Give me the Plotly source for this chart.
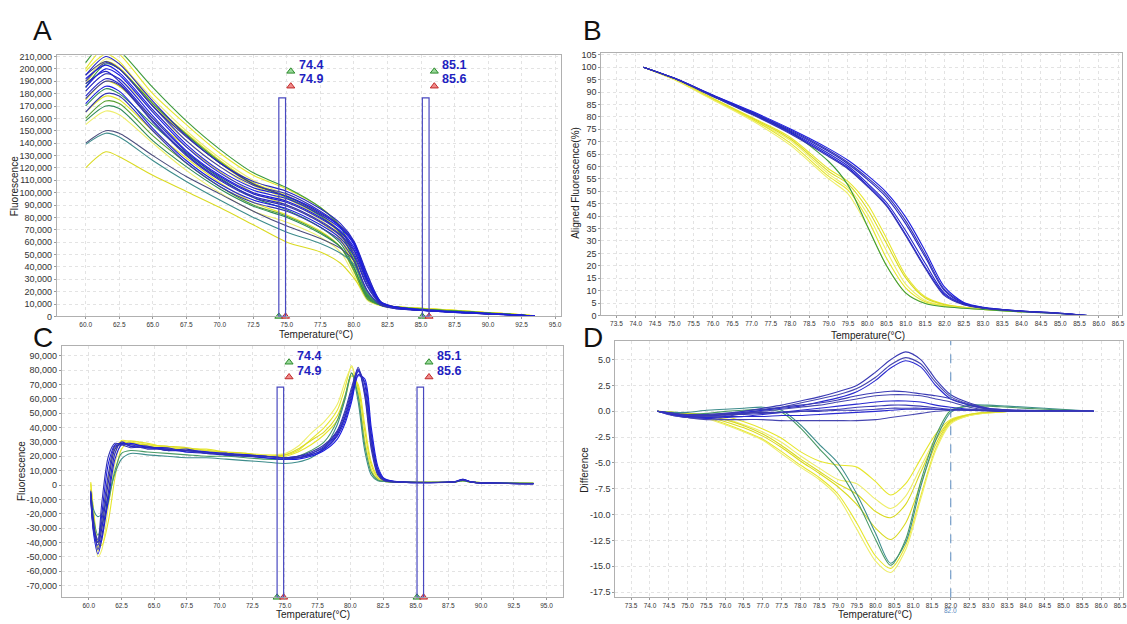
import plotly.graph_objects as go

# ======================= DATA =======================
# Panel A : raw melt curves (fluorescence, thousands)
TA = [60.0, 61.5, 62.5, 65.0, 67.5, 70.0, 72.5, 75.0, 77.5, 79.0, 80.0, 81.0, 82.0, 83.0, 85.0, 87.5, 90.0, 92.5, 93.5]
A_yellow = [
    [200, 218, 212, 180, 155, 132, 114, 103, 88, 73, 50, 19, 10, 8, 6.5, 5.0, 3.2, 1.5, 0.5],
    [190, 208, 204, 176, 150, 128, 110, 98, 83, 67, 45, 17, 9.5, 8, 6.5, 5.0, 3.0, 1.4, 0.5],
    [175, 190, 186, 160, 137, 117, 100, 90, 76, 62, 40, 15, 9, 7.5, 6, 4.5, 3.0, 1.3, 0.4],
    [165, 178, 175, 150, 128, 108, 92, 82, 69, 56, 36, 14, 9, 7.5, 6, 4.5, 2.8, 1.2, 0.4],
    [155, 166, 163, 140, 118, 100, 85, 76, 64, 52, 33, 13, 8.5, 7, 6, 4.3, 2.7, 1.1, 0.4],
    [120, 133, 129, 114, 101, 88, 74, 60, 52, 43, 31, 16, 10, 8, 6.5, 4.8, 3.0, 1.3, 0.4],
    [198, 212, 206, 172, 146, 124, 106, 95, 80, 66, 44, 16, 9.5, 8, 6.5, 5.0, 3.0, 1.4, 0.5],
    [182, 196, 192, 166, 142, 121, 104, 93, 78, 64, 42, 16, 9.5, 7.5, 6.2, 4.7, 3.0, 1.3, 0.4],
    [188, 206, 201, 172, 148, 126, 108, 97, 82, 68, 46, 17, 9.5, 7.8, 6.3, 4.8, 3.0, 1.3, 0.4],
]
A_green = [
    [205, 222, 215, 185, 158, 135, 116, 104, 88, 72, 48, 18, 10, 8, 6, 4.5, 2.8, 1.2, 0.4],
    [170, 184, 180, 155, 132, 112, 96, 86, 72, 59, 40, 15, 9, 7, 5.8, 4.2, 2.6, 1.1, 0.3],
    [160, 174, 172, 146, 124, 105, 90, 81, 68, 56, 37, 14, 9, 7, 5.6, 4.0, 2.5, 1.0, 0.3],
    [185, 204, 200, 172, 147, 125, 107, 96, 81, 67, 45, 17, 9.5, 7.5, 6, 4.4, 2.7, 1.1, 0.3],
    [158, 170, 168, 142, 121, 103, 89, 80, 67, 56, 39, 16, 9, 7, 5.5, 4.0, 2.5, 1.0, 0.3],
]
A_dark = [
    [140, 150, 148, 130, 113, 99, 85, 73, 63, 55, 45, 20, 10, 7.5, 5.5, 4.0, 2.5, 1.0, 0.3],
    [195, 206, 200, 170, 145, 124, 107, 97, 83, 73, 60, 30, 11, 7.5, 5.5, 4.0, 2.5, 1.0, 0.3],
    [139, 148, 145, 126, 109, 94, 80, 68, 59, 51, 42, 19, 10, 7.5, 5.5, 4.0, 2.5, 1.0, 0.3],
]
A_blue = [
    [185, 200, 195, 165, 137, 116, 102, 95, 82, 71, 58, 30, 11, 7, 5, 3.5, 2.2, 0.9, 0.3],
    [178, 192, 188, 158, 131, 111, 97, 90, 77, 66, 53, 27, 10, 7, 5, 3.4, 2.1, 0.8, 0.2],
    [190, 205, 200, 170, 142, 121, 106, 99, 85, 73, 60, 33, 12, 8, 5.5, 3.6, 2.3, 1.0, 0.3],
    [172, 186, 182, 152, 126, 107, 94, 87, 74, 63, 49, 24, 10, 6.5, 5, 3.3, 2.0, 0.8, 0.2],
    [195, 210, 204, 174, 146, 124, 109, 101, 87, 75, 61, 34, 12, 8, 5.5, 3.6, 2.3, 1.0, 0.3],
    [165, 180, 178, 150, 124, 105, 92, 85, 72, 61, 45, 21, 9, 6.5, 4.8, 3.2, 2.0, 0.8, 0.2],
    [182, 196, 192, 162, 134, 114, 100, 93, 80, 69, 56, 29, 11, 7, 5, 3.5, 2.2, 0.9, 0.3],
    [188, 198, 190, 160, 133, 113, 99, 92, 79, 68, 54, 28, 10.5, 7, 5, 3.4, 2.1, 0.9, 0.3],
    [176, 190, 187, 157, 130, 110, 96, 89, 76, 65, 51, 25, 10, 6.8, 5, 3.3, 2.1, 0.8, 0.2],
    [192, 203, 197, 167, 139, 118, 104, 97, 84, 72, 59, 31, 11.5, 7.5, 5.2, 3.5, 2.2, 0.9, 0.3],
]

# Panel B : aligned fluorescence (%)
TB = [74.2, 75.0, 76.0, 77.0, 78.0, 79.0, 79.5, 80.0, 80.5, 81.0, 81.5, 82.0, 82.5, 83.0, 84.0, 85.0, 85.7]
B_yellow = [
    [100, 95.2, 87.5, 79.8, 71.8, 59.0, 54.0, 45.0, 31.0, 16.0, 7.5, 4.5, 3.3, 2.6, 1.6],
    [100, 95.0, 87.0, 79.0, 70.5, 57.0, 51.5, 41.0, 26.0, 12.5, 6.0, 4.0, 3.1, 2.5, 1.5],
    [100, 95.2, 87.3, 79.5, 71.2, 58.0, 53.0, 43.0, 29.0, 15.0, 7.0, 4.3, 3.3, 2.6, 1.6],
    [100, 95.1, 87.1, 79.2, 69.5, 56.0, 50.5, 39.0, 23.0, 11.0, 5.5, 3.8, 3.0, 2.4, 1.5],
    [100, 94.9, 86.8, 78.6, 68.6, 55.0, 49.0, 36.0, 20.0, 9.0, 5.0, 3.6, 3.0, 2.4, 1.4],
]
B_green = [
    [100, 95.5, 88.3, 81.2, 74.0, 62.0, 52.5, 36.0, 20.0, 9.0, 4.8, 3.5, 2.9, 2.4, 1.4, 0.7, 0.0],
]
B_blue = [
    [100, 95.5, 88.3, 81.3, 73.6, 64.5, 59.5, 52.5, 44.5, 32.5, 19.5, 8.5, 4.4, 3.0, 1.7, 0.8, 0.0],
    [100, 95.5, 88.5, 81.6, 74.0, 65.2, 60.2, 53.3, 45.5, 34.0, 21.0, 9.0, 4.6, 3.0, 1.7, 0.8, 0.0],
    [100, 95.6, 88.7, 82.0, 74.8, 66.5, 61.6, 55.5, 48.5, 38.0, 24.5, 10.5, 5.0, 3.2, 1.8, 0.9, 0.0],
    [100, 95.6, 88.8, 82.3, 75.2, 67.2, 62.5, 56.5, 49.5, 39.5, 26.0, 11.5, 5.2, 3.3, 1.8, 0.9, 0.0],
    [100, 95.5, 88.6, 81.8, 74.4, 66.0, 61.0, 54.8, 47.5, 36.8, 23.5, 10.0, 4.8, 3.1, 1.8, 0.9, 0.0],
    [100, 95.4, 88.2, 81.0, 73.2, 64.0, 59.0, 52.0, 44.0, 32.0, 19.0, 8.0, 4.3, 2.9, 1.6, 0.8, 0.0],
]

# Panel C : derivative melt curves (thousands)
TC = [60.15, 60.4, 60.7, 61.0, 61.5, 62.0, 62.5, 63.2, 64.5, 66.0, 67.5, 69.0, 70.5, 72.0, 73.5, 75.0,
      76.0, 77.0, 78.0, 79.0, 79.6, 80.1, 80.6, 81.1, 81.6, 82.1, 82.6, 84.0, 88.0, 88.6, 89.3, 94.0]
C_yellow = [
    [2, -22, -46, -38, -5, 22, 31, 30, 27, 27, 25, 25, 23, 22, 21, 21, 24, 32, 40, 52, 68, 83, 65, 32, 11, 4, 2.5, 2, 2.2, 3, 2, 1.2],
    [0, -25, -50, -45, -15, 15, 29, 31, 28, 26, 26, 24, 22, 21, 21, 22, 27, 36, 44, 56, 72, 82, 60, 28, 9, 3.5, 2.5, 2, 2.2, 3, 2, 1.2],
    [-3, -28, -44, -30, 5, 26, 30, 29, 28, 27, 26, 24, 23, 22, 20, 21, 25, 31, 37, 48, 62, 78, 68, 38, 14, 5, 2.8, 2, 2.2, 3, 2, 1.2],
    [1, -20, -40, -42, -25, 5, 25, 30, 29, 26, 25, 24, 22, 21, 20, 20, 23, 28, 35, 45, 60, 76, 70, 42, 16, 6, 3, 2, 2.2, 3, 2, 1.2],
]
C_green = [
    [-5, -18, -22, -20, -8, 8, 18, 22, 21, 20, 19, 19, 18, 17, 16, 15, 16, 19, 26, 42, 60, 78, 58, 24, 7, 3, 2.5, 2, 2.2, 3, 2, 1.2],
    [-6, -25, -35, -28, -12, 10, 22, 24, 23, 22, 21, 20, 20, 19, 18, 18, 20, 24, 30, 45, 62, 78, 62, 28, 9, 3.5, 2.5, 2, 2.2, 3, 2, 1.2],
]
C_blue = [
    [-6, -32, -40, -20, 15, 28, 29, 27, 26, 25, 24, 23, 21, 21, 20, 19, 20, 22, 26, 36, 48, 64, 79, 66, 30, 9, 3.5, 2, 2.2, 3.5, 2, 1.0],
    [-8, -34, -42, -30, 2, 25, 29, 28, 27, 24, 25, 22, 22, 20, 19, 18, 19, 21, 25, 34, 45, 60, 77, 72, 36, 11, 4, 2, 2.3, 4, 2, 1.0],
    [-5, -30, -38, -12, 20, 29, 28, 26, 27, 24, 24, 23, 21, 20, 20, 19, 20, 23, 28, 38, 52, 68, 81, 62, 25, 7, 3, 2, 2.2, 3.5, 2, 1.0],
    [-10, -36, -48, -38, -10, 18, 28, 29, 26, 25, 23, 23, 22, 21, 19, 18, 18, 20, 24, 32, 43, 58, 76, 74, 40, 13, 4.5, 2, 2.4, 4, 2, 1.0],
    [-4, -28, -45, -35, -5, 22, 30, 27, 26, 26, 23, 22, 21, 21, 20, 19, 19, 21, 25, 35, 47, 62, 80, 70, 33, 10, 3.8, 2, 2.3, 3.8, 2, 1.0],
    [-7, -33, -40, -25, 8, 27, 28, 28, 25, 25, 24, 22, 22, 20, 20, 19, 19, 22, 27, 37, 50, 66, 82, 64, 28, 8, 3.2, 2, 2.2, 3.5, 2, 1.0],
]

# Panel D : difference plot
TD = [74.2, 74.6, 75.0, 75.5, 76.0, 76.5, 77.0, 77.5, 78.0, 78.5, 79.0, 79.5, 80.0, 80.4, 80.8, 81.2,
      81.6, 82.0, 82.5, 83.0, 83.5, 84.5, 85.8]
D_yellow = [
    [0, -0.1, -0.2, -0.3, -0.5, -1.0, -1.7, -2.6, -3.9, -4.8, -5.2, -5.4, -6.8, -8.1, -7.0, -4.6, -2.2, -0.8, -0.3, -0.1, 0],
    [0, -0.1, -0.2, -0.4, -0.7, -1.3, -2.0, -3.0, -4.3, -5.5, -6.6, -7.0, -8.5, -9.4, -8.2, -5.4, -2.6, -0.9, -0.3, -0.1, 0],
    [0, -0.1, -0.3, -0.5, -1.0, -1.6, -2.4, -3.5, -4.8, -6.0, -7.3, -9.0, -11.3, -12.4, -10.8, -7.0, -3.2, -1.0, -0.35, -0.1, 0],
    [0, -0.2, -0.3, -0.6, -1.2, -1.9, -2.7, -3.9, -5.2, -6.4, -8.0, -10.8, -14.0, -15.2, -13.0, -8.2, -3.6, -1.1, -0.4, -0.15, 0],
    [0, -0.2, -0.4, -0.7, -1.3, -2.0, -2.8, -4.1, -5.4, -6.6, -8.3, -11.4, -14.5, -15.6, -13.4, -8.5, -3.8, -1.2, -0.4, -0.15, 0],
    [0, -0.1, -0.2, -0.4, -0.8, -1.4, -2.2, -3.3, -4.6, -5.8, -7.0, -8.0, -9.7, -10.3, -9.0, -5.9, -2.8, -0.9, -0.3, -0.1, 0],
]
D_teal = [
    [0, -0.1, -0.1, 0.1, 0.2, 0.3, 0.4, 0.1, -1.3, -3.2, -5.0, -8.0, -11.8, -14.7, -12.7, -7.3, -2.8, -0.1, 0.6, 0.6, 0.5, 0.3, 0],
    [0, -0.2, -0.3, -0.2, 0.0, 0.1, 0.2, -0.1, -1.6, -3.6, -5.6, -8.6, -12.4, -14.9, -12.4, -6.8, -2.4, 0.1, 0.5, 0.5, 0.4, 0.2, 0],
]
D_blue = [
    [0, -0.3, -0.5, -0.5, -0.3, 0.0, 0.3, 0.6, 1.0, 1.4, 1.9, 2.5, 3.8, 5.0, 5.75, 5.0, 3.1, 1.6, 0.8, 0.3, 0.15, 0.05, 0],
    [0, -0.3, -0.6, -0.6, -0.5, -0.2, 0.1, 0.4, 0.8, 1.2, 1.6, 2.2, 3.3, 4.5, 5.2, 4.6, 2.8, 1.4, 0.7, 0.3, 0.15, 0.05, 0],
    [0, -0.2, -0.4, -0.4, -0.3, -0.1, 0.1, 0.3, 0.5, 0.9, 1.3, 1.9, 3.0, 4.2, 4.9, 4.3, 2.5, 1.2, 0.6, 0.25, 0.1, 0.05, 0],
    [0, -0.3, -0.5, -0.4, -0.2, 0.0, 0.2, 0.4, 0.6, 0.8, 1.1, 1.5, 1.8, 1.95, 1.9, 1.7, 1.5, 1.2, 0.6, 0.2, 0.1, 0.05, 0],
    [0, -0.2, -0.4, -0.5, -0.4, -0.2, 0.0, 0.2, 0.4, 0.6, 0.9, 1.2, 1.5, 1.6, 1.6, 1.5, 1.2, 0.9, 0.4, 0.15, 0.05, 0.0, 0],
    [0, -0.4, -0.6, -0.7, -0.6, -0.5, -0.3, -0.1, 0.1, 0.3, 0.5, 0.7, 0.9, 1.0, 1.0, 0.9, 0.6, 0.4, 0.2, 0.1, 0.05, 0.0, 0],
    [0, -0.2, -0.4, -0.4, -0.3, -0.3, -0.2, -0.1, 0.0, 0.1, 0.2, 0.4, 0.5, 0.6, 0.6, 0.5, 0.35, 0.2, 0.1, 0.05, 0.0, 0.0, 0],
    [0, -0.4, -0.6, -0.8, -0.8, -0.8, -0.8, -0.9, -0.9, -0.9, -0.9, -0.9, -0.8, -0.6, -0.4, -0.2, 0.0, 0.1, 0.2, 0.1, 0.05, 0.0, 0],
    [0, -0.3, -0.5, -0.6, -0.5, -0.5, -0.5, -0.4, -0.4, -0.3, -0.2, -0.1, 0.0, 0.1, 0.2, 0.2, 0.2, 0.15, 0.1, 0.05, 0.0, 0.0, 0],
    [0, -0.2, -0.3, -0.3, -0.2, -0.2, -0.1, -0.1, 0.0, 0.0, 0.1, 0.1, 0.2, 0.3, 0.3, 0.3, 0.2, 0.15, 0.1, 0.05, 0.0, 0.0, 0],
]

# Melt-region markers (lower/upper bound pairs) and the difference reference temperature
MARKERS = [(74.4, 74.9), (85.1, 85.6)]
D_REF = 82.0

# Tick values
A_XTICKS = [60.0 + 2.5 * i for i in range(15)]
A_YTICKS = [10 * i for i in range(22)]
B_XTICKS = [73.5 + 0.5 * i for i in range(27)]
B_YTICKS = [5 * i for i in range(22)]
C_YTICKS = [-70 + 10 * i for i in range(17)]
D_YTICKS = [-17.5 + 2.5 * i for i in range(10)]

# ======================= STYLE =======================
W, H = 1127, 624
FONT = "Liberation Sans Narrow, Arial Narrow, Liberation Sans, Arial, sans-serif"
FONT_T = "Liberation Sans, Arial, sans-serif"
YELLOWS = ['#e6e62c', '#eeee6a', '#dada22']
GREENS = ['#3c9a3c', '#2f8a58', '#58a030']
DARKS = ['#4c4c7c', '#3a3a8a', '#3d8b8b']
BLUES = ['#1c1ce0', '#2626c4', '#3434b0']
TEALS = ['#3d8c8c', '#4a9a66']
DBLUES = ['#3a3ab4', '#4646b0', '#2a2ad0']


def px(x):
    return x / W


def py(y):
    return 1 - y / H


fig = go.Figure()


def add_group(xs, groups, colors, xa, ya, width=1.1):
    for i, ys in enumerate(groups):
        fig.add_trace(go.Scatter(
            x=xs[:len(ys)], y=ys, mode='lines', xaxis=xa, yaxis=ya,
            line=dict(color=colors[i % len(colors)], width=width, shape='spline', smoothing=0.8),
            hoverinfo='skip', showlegend=False))


# Panel A
add_group(TA, A_yellow, YELLOWS, 'x', 'y')
add_group(TA, A_green, GREENS, 'x', 'y')
add_group(TA, A_dark, DARKS, 'x', 'y')
add_group(TA, A_blue, BLUES, 'x', 'y')
# Panel B
add_group(TB, B_yellow, YELLOWS, 'x2', 'y2')
add_group(TB, B_green, GREENS, 'x2', 'y2')
add_group(TB, B_blue, BLUES, 'x2', 'y2')
# Panel C
add_group(TC, C_yellow, YELLOWS, 'x3', 'y3')
add_group(TC, C_green, TEALS, 'x3', 'y3')
add_group(TC, C_blue, BLUES, 'x3', 'y3')
# Panel D
add_group(TD, D_yellow, YELLOWS, 'x4', 'y4')
add_group(TD, D_teal, TEALS, 'x4', 'y4')
add_group(TD, D_blue, DBLUES, 'x4', 'y4')

shapes = []
annotations = []

# melt region markers on A and C
panels_mk = [
    # xa, ya, rect_top, bottom, px_per_deg, tri_green_y, tri_red_y, txt1_y, txt2_y
    ('x', 'y', 176.6, 0.0, 13.46, 198.0, 186.0, 203.5, 191.5),
    ('x3', 'y3', 68.1, -78.2, 13.11, 85.5, 75.2, 89.8, 79.5),
]
for xa, ya, top, bot, ppd, tg, tr, t1, t2 in panels_mk:
    for lo, hi in MARKERS:
        shapes.append(dict(type='rect', xref=xa, yref=ya, x0=lo, x1=hi, y0=bot, y1=top,
                           line=dict(color='#4848c0', width=1.2), fillcolor='rgba(0,0,0,0)'))
        tx = lo + 12.0 / ppd
        fig.add_trace(go.Scatter(x=[tx, tx], y=[tg, tr], mode='markers', xaxis=xa, yaxis=ya,
                                 marker=dict(symbol='triangle-up', size=7,
                                             color=['#9ad89a', '#f08a8a'],
                                             line=dict(color=['#2a8a2a', '#c02a2a'], width=1)),
                                 cliponaxis=False, hoverinfo='skip', showlegend=False))
        fig.add_trace(go.Scatter(x=[lo, hi], y=[bot, bot], mode='markers', xaxis=xa, yaxis=ya,
                                 marker=dict(symbol='triangle-up', size=7,
                                             color=['#9ad89a', '#f08a8a'],
                                             line=dict(color=['#2a8a2a', '#c02a2a'], width=1)),
                                 cliponaxis=False, hoverinfo='skip', showlegend=False))
        for val, ty in ((lo, t1), (hi, t2)):
            annotations.append(dict(xref=xa, yref=ya, x=lo + 18.0 / ppd, y=ty, text=f"<b>{val:.1f}</b>",
                                    showarrow=False, xanchor='left', yanchor='middle',
                                    font=dict(family=FONT_T, size=12.5, color='#1f1fc0')))

# Panel D dashed reference line
shapes.append(dict(type='line', xref='x4', yref='y4 domain', x0=D_REF, x1=D_REF, y0=0, y1=1,
                   line=dict(color='#5a8cc0', width=1, dash='dash')))
annotations.append(dict(xref='x4', yref='paper', x=D_REF, y=py(615), text=f"{D_REF:.1f}",
                        showarrow=False, xanchor='center', yanchor='middle',
                        font=dict(family=FONT, size=6.5, color='#5a8ac0')))

# panel letters
for letter, (lx, ly) in {'A': (43, 27), 'B': (594, 27), 'C': (43, 338), 'D': (595, 338)}.items():
    annotations.append(dict(xref='paper', yref='paper', x=px(lx), y=py(ly), text=letter, showarrow=False,
                            xanchor='center', yanchor='middle',
                            font=dict(family=FONT_T, size=28, color='#111111')))

# axis titles
for text, (tx, ty), ang in [
    ("Temperature(°C)", (317, 335), 0), ("Temperature(°C)", (870, 336), 0),
    ("Temperature(°C)", (314, 619), 0), ("Temperature(°C)", (877, 619), 0),
    ("Fluorescence", (14, 185), -90), ("Aligned Fluorescence(%)", (577, 181), -90),
    ("Fluorescence", (21, 474), -90), ("Difference", (586, 472), -90)]:
    annotations.append(dict(xref='paper', yref='paper', x=px(tx), y=py(ty), text=text, showarrow=False,
                            xanchor='center', yanchor='middle', textangle=ang,
                            font=dict(family=FONT, size=10, color='#222222')))


def axis(domain, rng, tickvals, ticktext, anchor, fsize):
    return dict(domain=domain, range=rng, tickmode='array', tickvals=tickvals, ticktext=ticktext,
                anchor=anchor, showline=True, linecolor='#b0b0b0', linewidth=1, mirror=True,
                ticks='outside', ticklen=2, tickcolor='#999999', showgrid=True, gridcolor='#e3e3e3',
                griddash='dot', gridwidth=1, zeroline=False,
                tickfont=dict(family=FONT, size=fsize, color='#333333'))


fig.update_layout(
    width=W, height=H, margin=dict(l=0, r=0, t=0, b=0),
    paper_bgcolor='white', plot_bgcolor='white', showlegend=False,
    xaxis=axis([px(57), px(562)], [57.85, 95.4], A_XTICKS, [f"{v:.1f}" for v in A_XTICKS], 'y', 6.5),
    yaxis=axis([py(317), py(52)], [0, 211], A_YTICKS, [f"{v * 1000:,}" for v in A_YTICKS], 'x', 9),
    xaxis2=axis([px(603), px(1125)], [73.11, 86.6], B_XTICKS, [f"{v:.1f}" for v in B_XTICKS], 'y2', 6.5),
    yaxis2=axis([py(316), py(50)], [0, 105.6], B_YTICKS, [str(v) for v in B_YTICKS], 'x2', 9),
    xaxis3=axis([px(62), px(565)], [57.94, 96.3], A_XTICKS, [f"{v:.1f}" for v in A_XTICKS], 'y3', 6.5),
    yaxis3=axis([py(602), py(347)], [-78.2, 96.8], C_YTICKS, [f"{v * 1000:,}" for v in C_YTICKS], 'x3', 9),
    xaxis4=axis([px(617), px(1126)], [73.08, 86.58], B_XTICKS, [f"{v:.1f}" for v in B_XTICKS], 'y4', 6.5),
    yaxis4=axis([py(602), py(342)], [-18.0, 6.8], D_YTICKS, [f"{v:.1f}" for v in D_YTICKS], 'x4', 9),
    shapes=shapes, annotations=annotations,
)

fig.write_html("out.html")
